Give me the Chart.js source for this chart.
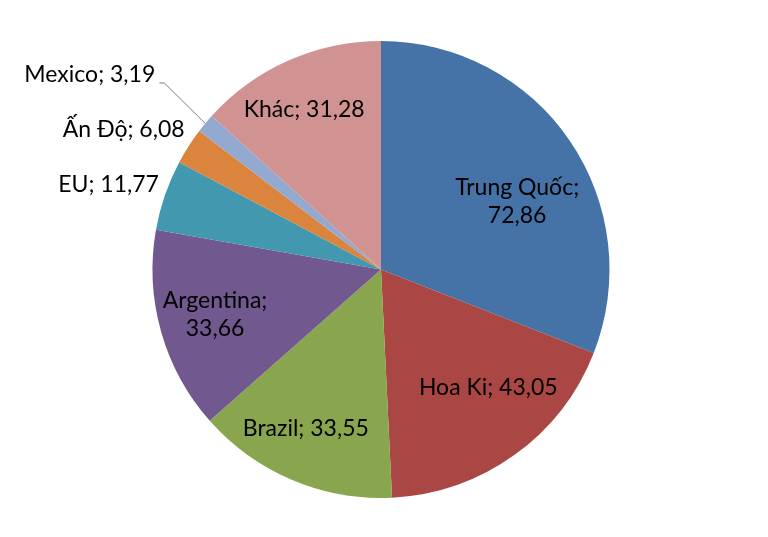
<!DOCTYPE html>
<html>
<head>
<meta charset="utf-8">
<script src="https://cdn.jsdelivr.net/npm/chart.js@4.4.1/dist/chart.umd.min.js"></script>
<style>
    html, body { margin: 0; padding: 0; background: #fff; }
    #wrap { width: 768px; height: 537px; }
</style>
</head>
<body>
<div id="wrap"><canvas id="pieChart" width="768" height="537"></canvas></div>
<script>
// Data
const countries = ['Trung Quốc', 'Hoa Ki', 'Brazil', 'Argentina', 'EU', 'Ấn Độ', 'Mexico', 'Khác'];
const values = [72.86, 43.05, 33.55, 33.66, 11.77, 6.08, 3.19, 31.28];
const sliceColors = ['#4572A7', '#AA4643', '#89A54E', '#71588F', '#4198AF', '#DB843D', '#93A9CF', '#D19392'];

// label placement: inside labels use offset from mid-angle point at 0.7 radius,
// outside labels are right-aligned next to the arc edge
const labelStyle = [
    { inside: true, lines: 2, dx: 4, dy: 22 },
    { inside: true, lines: 1, dx: 14, dy: -12 },
    { inside: true, lines: 1, dx: -13, dy: 12 },
    { inside: true, lines: 2, dx: -12, dy: 2 },
    { inside: false, dx: -6, dy: -11 },
    { inside: false, dx: -4, dy: -17 },
    { inside: false, dx: -50, dy: -49, leader: true },
    { inside: true, lines: 1, dx: -12, dy: -14 }
];

function fmt(v) {
    return v.toFixed(2).replace('.', ',');
}

const pieLabels = {
    id: 'pieLabels',
    afterDatasetsDraw(chart) {
        const ctx = chart.ctx;
        const arcs = chart.getDatasetMeta(0).data;
        ctx.save();
        ctx.font = '23px Lato, "Open Sans", sans-serif';
        ctx.fillStyle = '#000';
        ctx.textBaseline = 'middle';
        arcs.forEach((arc, i) => {
            const st = labelStyle[i];
            const mid = (arc.startAngle + arc.endAngle) / 2;
            const txt = countries[i] + '; ' + fmt(values[i]);
            if (st.inside) {
                const r = arc.outerRadius * 0.7;
                const x = arc.x + Math.cos(mid) * r + st.dx;
                const y = arc.y + Math.sin(mid) * r + st.dy;
                ctx.textAlign = 'center';
                if (st.lines === 2) {
                    ctx.fillText(countries[i] + ';', x, y - 14);
                    ctx.fillText(fmt(values[i]), x, y + 14);
                } else {
                    ctx.fillText(txt, x, y);
                }
            } else {
                const ex = arc.x + Math.cos(mid) * arc.outerRadius;
                const ey = arc.y + Math.sin(mid) * arc.outerRadius;
                const x = ex + st.dx;
                const y = ey + st.dy;
                ctx.textAlign = 'right';
                ctx.fillText(txt, x, y);
                if (st.leader) {
                    ctx.beginPath();
                    ctx.strokeStyle = '#7f7f7f';
                    ctx.lineWidth = 1;
                    ctx.moveTo(x + 4, y + 8.5);
                    ctx.lineTo(x + 9, y + 8.5);
                    ctx.lineTo(ex, ey);
                    ctx.stroke();
                }
            }
        });
        ctx.restore();
    }
};

new Chart(document.getElementById('pieChart'), {
    type: 'pie',
    data: {
        labels: countries,
        datasets: [{
            data: values,
            backgroundColor: sliceColors,
            borderWidth: 0
        }]
    },
    options: {
        responsive: false,
        animation: false,
        layout: { padding: { top: 41, bottom: 39, left: 0, right: 6 } },
        plugins: {
            legend: { display: false },
            tooltip: { enabled: false }
        }
    },
    plugins: [pieLabels]
});
</script>
</body>
</html>
